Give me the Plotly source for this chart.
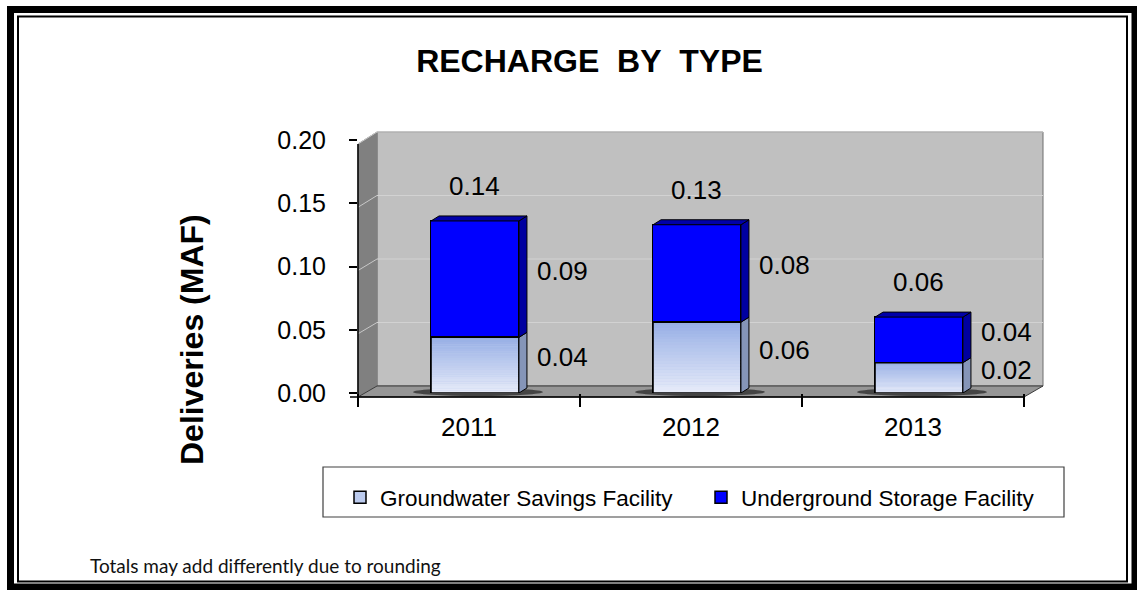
import plotly.graph_objects as go

# ---------------- data ----------------
years = ["2011", "2012", "2013"]
gsf = [0.044, 0.056, 0.024]   # Groundwater Savings Facility
usf = [0.092, 0.077, 0.036]   # Underground Storage Facility
y_ticks = [0.00, 0.05, 0.10, 0.15, 0.20]
series_names = ["Groundwater Savings Facility", "Underground Storage Facility"]

# ---------------- layout constants ----------------
FW, FH = 1137, 590
L, R, T, B = 358, 113, 140, 197
W = FW - L - R
H = FH - T - B
YMAX = 0.20
BAR_W = 0.396
BAR_OFF = -0.171
DEPTH_X, DEPTH_Y = 19, 11      # 3D frame depth (px)
BD_X, BD_Y = 8, 5              # bar depth (px)
xpos = list(range(len(years)))

def px(x):
    return (x - L) / W

def py(y):
    return (T + H - y) / H

def pth(points):
    return "M" + " L".join(f"{px(a):.5f},{py(b):.5f}" for a, b in points) + " Z"

FONT = "Liberation Sans, Arial, sans-serif"
shapes = []

# ---------- outer double border ----------
shapes.append(dict(type="rect", xref="paper", yref="paper",
                   x0=px(10.5), x1=px(1135), y0=py(9.5), y1=py(587),
                   line=dict(color="black", width=7), fillcolor="rgba(0,0,0,0)"))
shapes.append(dict(type="rect", xref="paper", yref="paper",
                   x0=px(18), x1=px(1127), y0=py(16.5), y1=py(581.5),
                   line=dict(color="black", width=2), fillcolor="rgba(0,0,0,0)"))

# ---------- 3D frame (walls and floor) ----------
FX0, FX1 = 358, 1024       # front axis x extent
FY0, FY1 = 397, 144        # front axis y for 0 and max
BX0, BX1 = FX0 + DEPTH_X, FX1 + DEPTH_X
BY0, BY1 = FY0 - DEPTH_Y, FY1 - DEPTH_Y - 1

def fy(v):
    return FY0 - (FY0 - FY1) * v / YMAX

def by(v):
    return BY0 - (BY0 - BY1) * v / YMAX

# back wall
shapes.append(dict(type="path", xref="paper", yref="paper", layer="below",
                   path=pth([(BX0, BY1), (BX1, BY1), (BX1, BY0), (BX0, BY0)]),
                   fillcolor="#C0C0C0", line=dict(color="#6E6E6E", width=1)))
# left wall
shapes.append(dict(type="path", xref="paper", yref="paper", layer="below",
                   path=pth([(FX0, FY1), (BX0, BY1), (BX0, BY0), (FX0, FY0)]),
                   fillcolor="#808080", line=dict(color="#808080", width=1)))
# gridlines on back wall and left wall
for v in y_ticks[1:]:
    shapes.append(dict(type="line", xref="paper", yref="paper", layer="below",
                       x0=px(BX0), x1=px(BX1), y0=py(by(v)), y1=py(by(v)),
                       line=dict(color="#D2D2D2", width=1)))
    shapes.append(dict(type="line", xref="paper", yref="paper", layer="below",
                       x0=px(FX0), x1=px(BX0), y0=py(fy(v)), y1=py(by(v)),
                       line=dict(color="#C8C8C8", width=1)))
# floor
shapes.append(dict(type="path", xref="paper", yref="paper", layer="below",
                   path=pth([(FX0, FY0), (BX0, BY0), (BX1, BY0), (FX1, FY0)]),
                   fillcolor="#969696", line=dict(color="#3C3C3C", width=1)))
# front axis lines
shapes.append(dict(type="line", xref="paper", yref="paper",
                   x0=px(FX0), x1=px(FX0), y0=py(FY1), y1=py(FY0),
                   line=dict(color="black", width=1.5)))
shapes.append(dict(type="line", xref="paper", yref="paper",
                   x0=px(FX0 - 8), x1=px(FX1), y0=py(FY0), y1=py(FY0),
                   line=dict(color="black", width=1.5)))

# ---------- 3D bar faces ----------
bar_px = BAR_W * W / len(years)
dyd = BD_Y * YMAX / H

def side(xa, y0, y1, color):
    return dict(type="path", xref="x", yref="y", xsizemode="pixel", xanchor=xa,
                path=f"M0,{y0} L{BD_X},{y0 + dyd} L{BD_X},{y1 + dyd} L0,{y1} Z",
                fillcolor=color, line=dict(color="black", width=1), layer="above")

def top(xa, y, color):
    return dict(type="path", xref="x", yref="y", xsizemode="pixel", xanchor=xa,
                path=f"M0,{y} L{bar_px:.2f},{y} L{bar_px + BD_X:.2f},{y + dyd} L{BD_X},{y + dyd} Z",
                fillcolor=color, line=dict(color="black", width=1), layer="above")

N_STRIP = 24
c_bot = (232, 236, 249)
c_top = (150, 174, 229)
for i, (g, u) in enumerate(zip(gsf, usf)):
    left = i + BAR_OFF
    right = left + BAR_W
    # soft shadow on the floor
    shapes.append(dict(type="circle", xref="x", yref="paper", xsizemode="pixel", xanchor=left,
                       x0=-18, x1=bar_px + 24, y0=py(396), y1=py(388), layer="below",
                       fillcolor="rgba(40,40,40,0.75)", line=dict(width=0)))
    # gradient fill of GSF front face
    for k in range(N_STRIP):
        t = (k + 0.5) / N_STRIP
        col = tuple(round(c_bot[j] + (c_top[j] - c_bot[j]) * t) for j in range(3))
        shapes.append(dict(type="rect", xref="x", yref="y", layer="above",
                           x0=left, x1=right, y0=g * k / N_STRIP, y1=g * (k + 1) / N_STRIP,
                           fillcolor=f"rgb{col}", line=dict(width=0)))
    shapes.append(dict(type="rect", xref="x", yref="y", layer="above",
                       x0=left, x1=right, y0=0, y1=g,
                       fillcolor="rgba(0,0,0,0)", line=dict(color="black", width=1.5)))
    shapes.append(side(right, 0, g, "#8595B8"))
    shapes.append(side(right, g, g + u, "#0000A0"))
    shapes.append(top(left, g + u, "#0000A8"))

# ---------- legend box ----------
shapes.append(dict(type="rect", xref="paper", yref="paper",
                   x0=px(323), x1=px(1064), y0=py(467), y1=py(517),
                   line=dict(color="#404040", width=1.2), fillcolor="rgba(0,0,0,0)"))

# ---------------- traces ----------------
fig = go.Figure()
fig.add_trace(go.Bar(x=xpos, y=gsf, name=series_names[0], width=BAR_W, offset=BAR_OFF,
                     marker=dict(color="#BCCBEE", line=dict(color="black", width=1.5))))
fig.add_trace(go.Bar(x=xpos, y=usf, name=series_names[1], width=BAR_W, offset=BAR_OFF,
                     marker=dict(color="#0000FF", line=dict(color="black", width=1.5))))

# ---------------- annotations ----------------
ann = []
for i, (g, u) in enumerate(zip(gsf, usf)):
    cx = i + BAR_OFF + BAR_W / 2
    tot = g + u
    ann.append(dict(x=cx, y=tot, xref="x", yref="y", text=f"{tot:.2f}", showarrow=False,
                    yshift=35, font=dict(size=26, color="black", family=FONT)))
    ann.append(dict(x=cx, y=g + u / 2, xref="x", yref="y", text=f"{u:.2f}", showarrow=False,
                    xshift=88, yshift=8, font=dict(size=26, color="black", family=FONT)))
    ann.append(dict(x=cx, y=g / 2, xref="x", yref="y", text=f"{g:.2f}", showarrow=False,
                    xshift=88, yshift=8, font=dict(size=26, color="black", family=FONT)))

ann.append(dict(x=px(192), y=py(340), xref="paper", yref="paper", text="Deliveries (MAF)",
                textangle=-90, showarrow=False, xanchor="center", yanchor="middle",
                font=dict(size=32, color="black", family=FONT, weight="bold")))
ann.append(dict(x=px(88), y=py(565), xref="paper", yref="paper",
                text="Totals may add differently due to rounding",
                showarrow=False, xanchor="left", yanchor="middle",
                font=dict(size=19, color="#111111", family="Lato, Carlito, sans-serif")))

fig.update_layout(
    width=FW, height=FH,
    margin=dict(l=L, r=R, t=T, b=B),
    paper_bgcolor="white", plot_bgcolor="rgba(0,0,0,0)",
    barmode="stack", bargap=0,
    title=dict(text="RECHARGE\u00a0\u00a0BY\u00a0\u00a0TYPE", xref="container", yref="container",
               x=589.5 / FW, y=1 - 61 / FH, xanchor="center", yanchor="middle",
               font=dict(size=32, color="black", family=FONT, weight="bold")),
    xaxis=dict(range=[-0.5, 2.5], tickvals=xpos, ticktext=years, ticks="", showgrid=False,
               zeroline=False, showline=False, ticklabelstandoff=16,
               tickfont=dict(size=26, color="black", family=FONT),
               minor=dict(tickvals=[-0.5, 0.5, 1.5, 2.5], ticks="outside", ticklen=13,
                          tickcolor="black", tickwidth=1.5, showgrid=False)),
    yaxis=dict(range=[0, YMAX], tickvals=y_ticks, tickformat=".2f", ticks="outside",
               ticklen=8, tickcolor="black", tickwidth=1.5, showgrid=False, zeroline=False,
               showline=False, ticklabelstandoff=18,
               tickfont=dict(size=25, color="black", family=FONT)),
    legend=dict(orientation="h", x=px(340), y=py(476), xanchor="left", yanchor="top",
                entrywidth=316, entrywidthmode="pixels", traceorder="normal",
                bgcolor="rgba(0,0,0,0)", itemwidth=30,
                font=dict(size=22.5, color="black", family=FONT)),
    shapes=shapes,
    annotations=ann,
)

fig.write_html("out.html", config={"displayModeBar": False},
               post_script="document.body.style.margin='0';document.body.style.overflow='hidden';")
